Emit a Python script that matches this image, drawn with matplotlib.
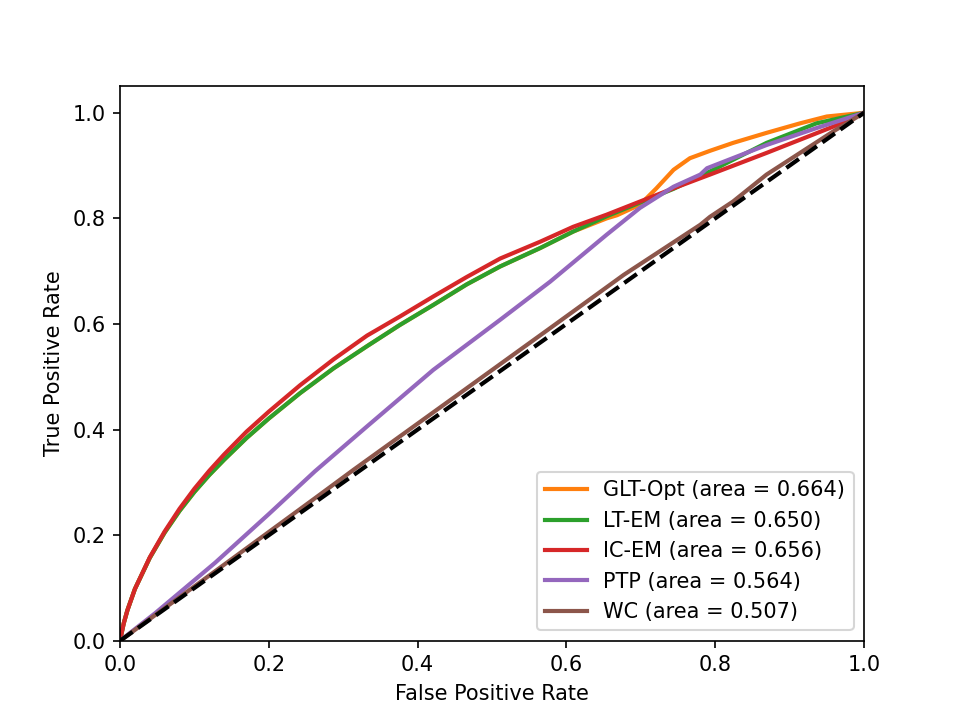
import matplotlib
matplotlib.use("Agg")
import matplotlib.pyplot as plt

# ROC points
glt_fpr = [0, 0.005, 0.01, 0.02, 0.04, 0.06, 0.08, 0.10, 0.12, 0.14, 0.17, 0.20, 0.242, 0.287, 0.332,
           0.376, 0.421, 0.466, 0.511, 0.565, 0.609, 0.654, 0.668, 0.699, 0.721, 0.744, 0.766, 0.793,
           0.824, 0.869, 0.914, 0.950, 1.0]
glt_tpr = [0, 0.033, 0.058, 0.098, 0.157, 0.205, 0.246, 0.282, 0.314, 0.343, 0.384, 0.421, 0.469, 0.516,
           0.558, 0.598, 0.636, 0.675, 0.709, 0.744, 0.775, 0.800, 0.806, 0.826, 0.857, 0.892, 0.914,
           0.928, 0.943, 0.962, 0.980, 0.993, 1.0]

lt_fpr = [0, 0.005, 0.01, 0.02, 0.04, 0.06, 0.08, 0.10, 0.12, 0.14, 0.17, 0.20, 0.242, 0.287, 0.332,
          0.376, 0.421, 0.466, 0.511, 0.565, 0.609, 0.654, 0.699, 0.744, 0.793, 0.869, 0.936, 1.0]
lt_tpr = [0, 0.033, 0.058, 0.098, 0.157, 0.205, 0.246, 0.282, 0.314, 0.343, 0.384, 0.421, 0.469, 0.516,
          0.558, 0.598, 0.636, 0.675, 0.709, 0.744, 0.775, 0.804, 0.830, 0.856, 0.889, 0.943, 0.980, 1.0]

ic_fpr = [0, 0.005, 0.01, 0.02, 0.04, 0.06, 0.08, 0.10, 0.12, 0.14, 0.17, 0.20, 0.242, 0.287, 0.332,
          0.376, 0.421, 0.466, 0.511, 0.565, 0.609, 0.654, 0.699, 0.744, 0.793, 0.869, 0.959, 1.0]
ic_tpr = [0, 0.033, 0.058, 0.098, 0.158, 0.207, 0.250, 0.288, 0.322, 0.353, 0.396, 0.434, 0.484, 0.533,
          0.578, 0.614, 0.652, 0.689, 0.724, 0.756, 0.784, 0.807, 0.832, 0.857, 0.883, 0.924, 0.974, 1.0]

ptp_fpr = [0, 0.047, 0.128, 0.2, 0.262, 0.332, 0.421, 0.511, 0.578, 0.654, 0.699, 0.744, 0.780,
           0.789, 0.869, 0.936, 1.0]
ptp_tpr = [0, 0.052, 0.148, 0.240, 0.321, 0.406, 0.513, 0.608, 0.680, 0.769, 0.820, 0.860, 0.883,
           0.895, 0.939, 0.971, 1.0]

wc_fpr = [0, 0.1, 0.262, 0.314, 0.45, 0.578, 0.677, 0.78, 0.793, 0.824, 0.869, 0.914, 0.959, 1.0]
wc_tpr = [0, 0.103, 0.27, 0.324, 0.462, 0.592, 0.693, 0.788, 0.803, 0.832, 0.883, 0.924, 0.965, 1.0]

names = ["GLT-Opt", "LT-EM", "IC-EM", "PTP", "WC"]
areas = [0.664, 0.650, 0.656, 0.564, 0.507]
colors = ["tab:orange", "tab:green", "tab:red", "tab:purple", "tab:brown"]

curves = [(glt_fpr, glt_tpr), (lt_fpr, lt_tpr), (ic_fpr, ic_tpr), (ptp_fpr, ptp_tpr), (wc_fpr, wc_tpr)]

plt.figure(figsize=(6.4, 4.8), dpi=150)
for (fpr, tpr), name, auc, c in zip(curves, names, areas, colors):
    plt.plot(fpr, tpr, color=c, lw=2, label="%s (area = %0.3f)" % (name, auc))
plt.plot([0, 1], [0, 1], "k--", lw=2)
plt.xlim([0.0, 1.0])
plt.ylim([0.0, 1.05])
plt.xlabel("False Positive Rate")
plt.ylabel("True Positive Rate")
plt.legend(loc="lower right")
plt.savefig("out.png", dpi=150)
